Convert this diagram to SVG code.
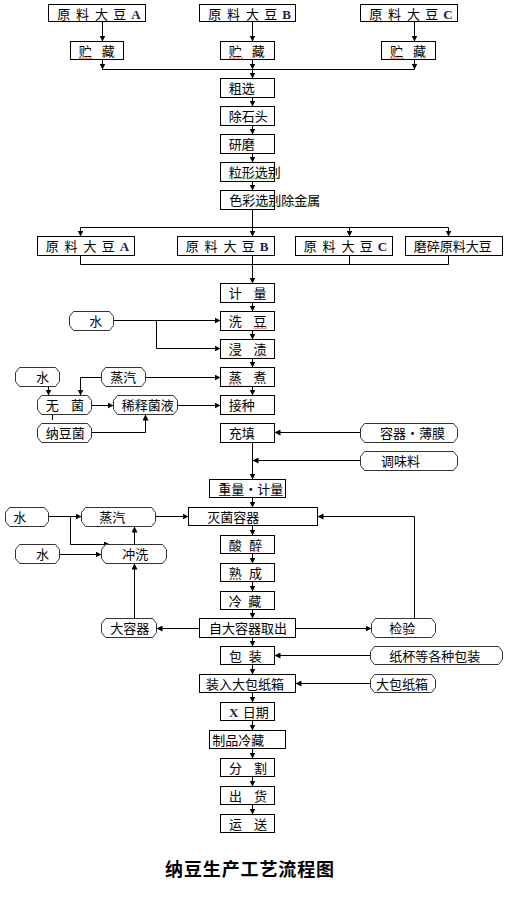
<svg xmlns="http://www.w3.org/2000/svg" width="510" height="900" viewBox="0 0 510 900">
<style>
.box{fill:#fff;stroke:#000;stroke-width:1}
.oct{fill:#fff;stroke:#333;stroke-width:1}
.t{font-family:"Noto Sans CJK SC","Noto Sans CJK JP",sans-serif;font-size:13px;fill:#000}
.lat{font-family:"Liberation Serif",serif;font-weight:bold;fill:#202050}
.c{fill:none;stroke:#000;stroke-width:1}
.a{marker-end:url(#ah)}
.title{font-family:"Noto Sans CJK SC","Noto Sans CJK JP",sans-serif;font-size:18px;font-weight:bold;fill:#000}
</style>
<defs>
<marker id="ah" markerUnits="userSpaceOnUse" markerWidth="6" markerHeight="6" refX="6" refY="3" orient="auto">
<path d="M0,0 L6,3 L0,6 Z" fill="#000"/>
</marker>
<pattern id="wr" width="4" height="3" patternUnits="userSpaceOnUse"><path d="M0,2.5 L2,0.5 L4,2.5" fill="none" stroke="#e00000" stroke-width="0.8"/></pattern>
<pattern id="wg" width="4" height="3" patternUnits="userSpaceOnUse"><path d="M0,2.5 L2,0.5 L4,2.5" fill="none" stroke="#2a9a2a" stroke-width="0.8"/></pattern>
</defs>
<rect width="510" height="900" fill="#fff"/>

<g id="connectors">
<path class="c a" d="M102.5,21.5 V41.5"/>
<path class="c a" d="M252.5,21.5 V41.5"/>
<path class="c a" d="M414.5,21.5 V41.5"/>
<path class="c a" d="M102.5,59.5 V69.5"/>
<path class="c a" d="M252.5,59.5 V69.5"/>
<path class="c a" d="M414.5,59.5 V69.5"/>
<path class="c" d="M102.5,69.5 H414.5"/>
<path class="c a" d="M252.5,69.5 V78.5"/>
<path class="c a" d="M252.5,97.5 V106.5"/>
<path class="c a" d="M252.5,125.5 V134.5"/>
<path class="c a" d="M252.5,153.5 V162.5"/>
<path class="c a" d="M252.5,181.5 V190.5"/>
<path class="c" d="M252.5,209.5 V227.5 M80.5,227.5 H448.5"/>
<path class="c a" d="M80.5,227.5 V236.5"/>
<path class="c a" d="M252.5,227.5 V236.5"/>
<path class="c a" d="M349.5,227.5 V236.5"/>
<path class="c a" d="M448.5,227.5 V236.5"/>
<path class="c" d="M80.5,255.5 V264.5 H448.5 V255.5 M349.5,255.5 V264.5"/>
<path class="c a" d="M252.5,255.5 V283.5"/>
<path class="c a" d="M252.5,302.5 V311.5"/>
<path class="c a" d="M252.5,330.5 V339.5"/>
<path class="c a" d="M252.5,358.5 V367.5"/>
<path class="c a" d="M252.5,386.5 V395.5"/>
<path class="c a" d="M113.5,320.5 H220.5"/>
<path class="c a" d="M156.5,320.5 V348.5 H220.5"/>
<path class="c a" d="M145.5,377.5 H220.5"/>
<path class="c a" d="M101.5,377.5 H80.5 V395.5"/>
<path class="c a" d="M48.5,386.5 V395.5"/>
<path class="c a" d="M91.5,405.5 H113.5"/>
<path class="c a" d="M177.5,405.5 H220.5"/>
<path class="c a" d="M91.5,432.5 H145.5 V414.5"/>
<path class="c" d="M52.5,414.5 V420"/>
<path class="c a" d="M360.5,432.5 H274.5"/>
<path class="c a" d="M360.5,460.5 H252.5"/>
<path class="c a" d="M252.5,442.5 V479.5"/>
<path class="c a" d="M252.5,497.5 V507.5"/>
<path class="c a" d="M48.5,516.5 H81.5"/>
<path class="c a" d="M70.5,516.5 V544.5 H110"/>
<path class="c a" d="M59.5,554.5 H101.5"/>
<path class="c a" d="M134.5,544.5 V526.5"/>
<path class="c a" d="M155.5,516.5 H188.5"/>
<path class="c a" d="M252.5,525.5 V535.5"/>
<path class="c a" d="M252.5,553.5 V563.5"/>
<path class="c a" d="M252.5,581.5 V591.5"/>
<path class="c a" d="M252.5,609.5 V618.5"/>
<path class="c a" d="M199.5,628.5 H156.5"/>
<path class="c a" d="M134.5,618.5 V563.5"/>
<path class="c a" d="M295.5,628.5 H371.5"/>
<path class="c a" d="M414.5,618.5 V516.5 H317.5"/>
<path class="c a" d="M252.5,637.5 V646.5"/>
<path class="c a" d="M370.5,655.5 H274.5"/>
<path class="c a" d="M252.5,664.5 V674.5"/>
<path class="c a" d="M370.5,683.5 H295.5"/>
<path class="c a" d="M252.5,692.5 V702.5"/>
<path class="c a" d="M252.5,720.5 V730.5"/>
<path class="c a" d="M252.5,748.5 V758.5"/>
<path class="c a" d="M252.5,776.5 V786.5"/>
<path class="c a" d="M252.5,804.5 V814.5"/>
</g>

<g id="srcA"><rect class="box" x="48.5" y="4.5" width="97" height="17"/><text class="t" x="57.3 70.3 76 89 95 108 113.3 126.3" y="18.5">原 料 大 豆 <tspan class="lat" x="131.3">A</tspan></text></g>
<g id="srcB"><rect class="box" x="199.5" y="4.5" width="96" height="17"/><text class="t" x="208.3 221.3 227 240 246 259 264.3 277.3" y="18.5">原 料 大 豆 <tspan class="lat" x="282.3">B</tspan></text></g>
<g id="srcC"><rect class="box" x="360.5" y="4.5" width="97" height="17"/><text class="t" x="369.3 382.3 388 401 407 420 425.3 438.3" y="18.5">原 料 大 豆 <tspan class="lat" x="443.3">C</tspan></text></g>

<g id="storeA"><rect class="box" x="70.5" y="41.5" width="53" height="18"/><text class="t" x="78.7 91.7 101.7" y="56">贮 藏</text></g>
<g id="storeB"><rect class="box" x="220.5" y="41.5" width="54" height="18"/><text class="t" x="228.7 241.7 251.7" y="56">贮 藏</text></g>
<g id="storeC"><rect class="box" x="381.5" y="41.5" width="54" height="18"/><text class="t" x="390 403 413" y="56">贮 藏</text></g>

<g id="cuxuan"><rect class="box" x="220.5" y="78.5" width="54" height="19"/><text class="t" x="228.7" y="93">粗选</text></g>
<g id="chushitou"><rect class="box" x="220.5" y="106.5" width="54" height="19"/><text class="t" x="228.7" y="121">除石头</text></g>
<g id="yanmo"><rect class="box" x="220.5" y="134.5" width="54" height="19"/><text class="t" x="228.7" y="149">研磨</text></g>
<g id="lixing"><rect class="box" x="220.5" y="162.5" width="54" height="19"/><text class="t" x="228.7" y="177">粒形选别</text></g>
<g id="secai"><rect class="box" x="220.5" y="190.5" width="54" height="19"/><text class="t" x="229.3" y="205">色彩选别除金属</text></g>

<g id="rowA"><rect class="box" x="37.5" y="236.5" width="97" height="19"/><text class="t" x="45.7 58.7 64.4 77.4 83.4 96.4 101.7 114.7" y="251">原 料 大 豆 <tspan class="lat" x="119.7">A</tspan></text></g>
<g id="rowB"><rect class="box" x="177.5" y="236.5" width="97" height="19"/><text class="t" x="185.7 198.7 204.4 217.4 223.4 236.4 241.7 254.7" y="251">原 料 大 豆 <tspan class="lat" x="259.7">B</tspan></text></g>
<g id="rowC"><rect class="box" x="295.5" y="236.5" width="97" height="19"/><text class="t" x="303.7 316.7 322.4 335.4 341.4 354.4 359.7 372.7" y="251">原 料 大 豆 <tspan class="lat" x="377.7">C</tspan></text></g>
<g id="rowD"><rect class="box" x="405.5" y="236.5" width="97" height="19"/><text class="t" x="413.7" y="251">磨碎原料大豆</text></g>

<g id="jiliang"><rect class="box" x="220.5" y="283.5" width="54" height="19"/><text class="t" x="228.7 241.7 253.5" y="298">计 量</text></g>
<g id="xidou"><rect class="box" x="220.5" y="311.5" width="54" height="19"/><text class="t" x="228.7 241.7 253.5" y="326">洗 豆</text></g>
<g id="jinzi"><rect class="box" x="220.5" y="339.5" width="54" height="19"/><text class="t" x="228.7 241.7 253.5" y="354">浸 渍</text></g>
<g id="zhengzhu"><rect class="box" x="220.5" y="367.5" width="54" height="19"/><text class="t" x="228.7 241.7 253.5" y="382">蒸 煮</text></g>
<g id="jiezhong"><rect class="box" x="220.5" y="395.5" width="54" height="19"/><text class="t" x="228.7" y="410">接种</text></g>
<g id="chongtian"><rect class="box" x="220.5" y="423.5" width="54" height="19"/><text class="t" x="228.7" y="438">充填</text></g>

<g id="water1"><path class="oct" d="M73.5,311.5 H109.5 L113.5,316.5 V325.5 L109.5,330.5 H73.5 L69.5,325.5 V316.5 Z"/><text class="t" x="89.3" y="326">水</text></g>
<g id="water2"><path class="oct" d="M19.5,367.5 H55.5 L59.5,372.5 V381.5 L55.5,386.5 H19.5 L15.5,381.5 V372.5 Z"/><text class="t" x="36" y="382">水</text></g>
<g id="steam1"><path class="oct" d="M105.5,367.5 H141.5 L145.5,372.5 V381.5 L141.5,386.5 H105.5 L101.5,381.5 V372.5 Z"/><text class="t" x="110.3" y="382">蒸汽</text></g>
<g id="wujun"><path class="oct" d="M41.5,395.5 H87.5 L91.5,400.5 V409.5 L87.5,414.5 H41.5 L37.5,409.5 V400.5 Z"/><text class="t" x="45.7 58.7 71" y="410">无 菌</text></g>
<g id="xishi"><path class="oct" d="M117.5,395.5 H173.5 L177.5,400.5 V409.5 L173.5,414.5 H117.5 L113.5,409.5 V400.5 Z"/><text class="t" x="121.7" y="410">稀释菌液</text></g>
<g id="natto"><path class="oct" d="M41.5,423.5 H87.5 L91.5,428.5 V437.5 L87.5,442.5 H41.5 L37.5,437.5 V428.5 Z"/><text class="t" x="45.7" y="438">纳豆菌</text></g>
<g id="rongqi"><path class="oct" d="M364.5,423.5 H453.5 L457.5,428.5 V437.5 L453.5,442.5 H364.5 L360.5,437.5 V428.5 Z"/><text class="t" x="380" y="438">容器・薄膜</text></g>
<g id="tiaowei"><path class="oct" d="M364.5,451.5 H453.5 L457.5,456.5 V465.5 L453.5,470.5 H364.5 L360.5,465.5 V456.5 Z"/><text class="t" x="381" y="466">调味料</text></g>

<g id="zhongliang"><rect class="box" x="209.5" y="479.5" width="76" height="18"/><text class="t" x="218.3" y="494">重量・计量</text></g>
<g id="miejun"><rect class="box" x="188.5" y="507.5" width="129" height="18"/><text class="t" x="207.3" y="522">灭菌容器</text></g>
<g id="water3"><path class="oct" d="M9.5,507.5 H44.5 L48.5,512.5 V521.5 L44.5,526.5 H9.5 L5.5,521.5 V512.5 Z"/><text class="t" x="13.3" y="522">水</text></g>
<g id="steam2"><path class="oct" d="M85.5,507.5 H151.5 L155.5,512.5 V521.5 L151.5,526.5 H85.5 L81.5,521.5 V512.5 Z"/><text class="t" x="99.3" y="522">蒸汽</text></g>
<g id="water4"><path class="oct" d="M19.5,544.5 H55.5 L59.5,549.5 V558.5 L55.5,563.5 H19.5 L15.5,558.5 V549.5 Z"/><text class="t" x="36" y="559">水</text></g>
<g id="chongxi"><path class="oct" d="M105.5,544.5 H162.5 L166.5,549.5 V558.5 L162.5,563.5 H105.5 L101.5,558.5 V549.5 Z"/><text class="t" x="122.3" y="559">冲洗</text></g>

<g id="suanzui"><rect class="box" x="220.5" y="535.5" width="54" height="18"/><text class="t" x="228.7 241.7 249.3" y="550">酸 醉</text></g>
<g id="shucheng"><rect class="box" x="220.5" y="563.5" width="54" height="18"/><text class="t" x="228.7 241.7 249" y="578">熟 成</text></g>
<g id="lengcang"><rect class="box" x="220.5" y="591.5" width="54" height="18"/><text class="t" x="228.7 241.7 248.3" y="606">冷 藏</text></g>
<g id="quchu"><rect class="box" x="199.5" y="618.5" width="96" height="19"/><text class="t" x="209" y="633">自大容器取出</text></g>
<g id="darongqi"><path class="oct" d="M105.5,618.5 H152.5 L156.5,623.5 V632.5 L152.5,637.5 H105.5 L101.5,632.5 V623.5 Z"/><text class="t" x="110.3" y="633">大容器</text></g>
<g id="jianyan"><path class="oct" d="M375.5,618.5 H431.5 L435.5,623.5 V632.5 L431.5,637.5 H375.5 L371.5,632.5 V623.5 Z"/><text class="t" x="389.3" y="633">检验</text></g>

<g id="baozhuang"><rect class="box" x="220.5" y="646.5" width="54" height="18"/><text class="t" x="229 242 248.7" y="661">包 装</text></g>
<g id="zhibei"><path class="oct" d="M374.5,646.5 H498.5 L502.5,651.5 V659.5 L498.5,664.5 H374.5 L370.5,659.5 V651.5 Z"/><text class="t" x="389.3" y="661">纸杯等各种包装</text></g>
<g id="zhuangru"><rect class="box" x="199.5" y="674.5" width="96" height="18"/><text class="t" x="206" y="689">装入大包纸箱</text></g>
<g id="dabao"><path class="oct" d="M374.5,674.5 H431.5 L435.5,679.5 V687.5 L431.5,692.5 H374.5 L370.5,687.5 V679.5 Z"/><text class="t" x="376" y="689">大包纸箱</text></g>
<g id="riqi"><rect class="box" x="220.5" y="702.5" width="54" height="18"/><text class="t" y="717"><tspan class="lat" x="229">X</tspan><tspan x="242.7">日期</tspan></text></g>
<g id="zhipin"><rect class="box" x="209.5" y="730.5" width="76" height="18"/><text class="t" x="212.3" y="745">制品冷藏</text></g>
<g id="fenge"><rect class="box" x="220.5" y="758.5" width="54" height="18"/><text class="t" x="229 242 254" y="773">分 割</text></g>
<g id="chuhuo"><rect class="box" x="220.5" y="786.5" width="54" height="18"/><text class="t" x="229 242 254" y="801">出 货</text></g>
<g id="yunsong"><rect class="box" x="220.5" y="814.5" width="54" height="18"/><text class="t" x="229 242 254" y="829">运 送</text></g>

<g id="proofmarks">
<rect x="78.7" y="56.5" width="14" height="3" fill="url(#wr)"/>
<rect x="228.7" y="56.5" width="14" height="3" fill="url(#wr)"/>
<rect x="390" y="56.5" width="14" height="3" fill="url(#wr)"/>
<rect x="228.7" y="177" width="50.6" height="3" fill="url(#wg)"/>
<rect x="255" y="204" width="63" height="3" fill="url(#wg)"/>
<rect x="254" y="326.5" width="13" height="3" fill="url(#wr)"/>
<rect x="228.7" y="354.5" width="13" height="3" fill="url(#wr)"/>
<rect x="254" y="354.5" width="13" height="3" fill="url(#wr)"/>
<rect x="228.7" y="382.5" width="13" height="3" fill="url(#wr)"/>
<rect x="251.7" y="548.5" width="7" height="3" fill="url(#wr)"/>
</g>

<text class="title" x="165" y="876" textLength="169" lengthAdjust="spacing">纳豆生产工艺流程图</text>
</svg>
